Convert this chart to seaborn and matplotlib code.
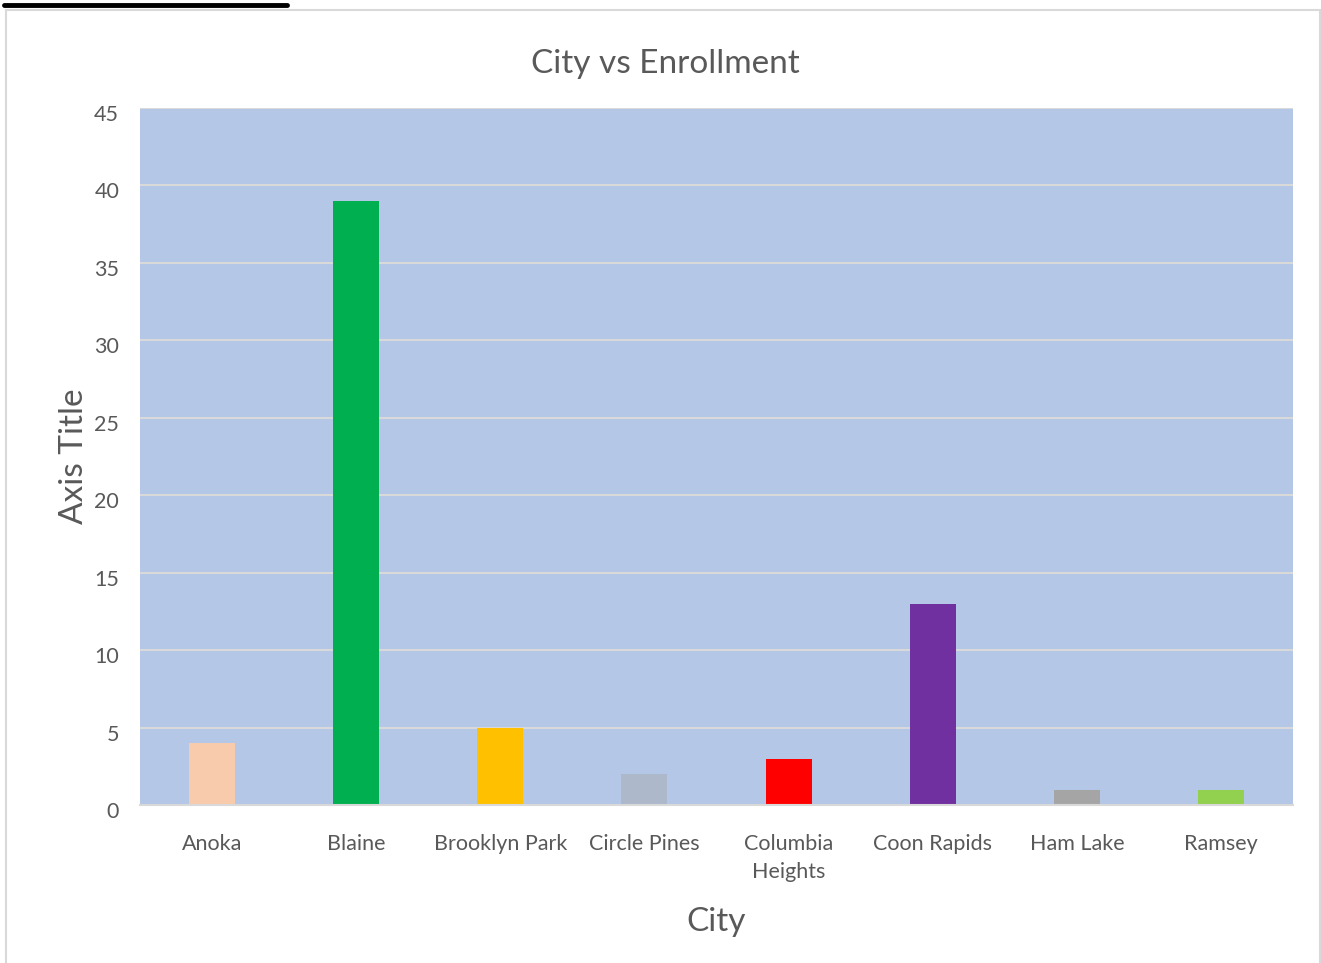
import matplotlib
matplotlib.use("Agg")
import matplotlib.pyplot as plt
from matplotlib.lines import Line2D
from matplotlib.patches import Rectangle
from matplotlib.transforms import ScaledTranslation
import seaborn as sns
import pandas as pd

cities = ["Anoka", "Blaine", "Brooklyn Park", "Circle Pines", "Columbia\nHeights",
          "Coon Rapids", "Ham Lake", "Ramsey"]
enrollment = [4, 39, 5, 2, 3, 13, 1, 1]
colors = ["#F8CBAD", "#00B050", "#FFC000", "#ADB9CA", "#FF0000", "#7030A0", "#A5A5A5", "#92D050"]
yticks = [0, 5, 10, 15, 20, 25, 30, 35, 40, 45]

sns.set_theme(style="white")
plt.rcParams["font.family"] = ["Lato", "DejaVu Sans"]

df = pd.DataFrame({"City": cities, "Enrollment": enrollment})

fig = plt.figure(figsize=(13.21, 9.63), dpi=100)
ax = fig.add_axes([140/1321, 1-805/963, (1293-140)/1321, (805-108)/963])

sns.barplot(data=df, x="City", y="Enrollment", hue="City", palette=colors,
            legend=False, width=0.32, ax=ax, saturation=1, zorder=3,
            linewidth=0, edgecolor="none")

ax.set_facecolor("#B4C7E7")
ax.set_ylim(0, 45)
ax.set_yticks(yticks)
ax.grid(axis="y", color="#D9D9D9", linewidth=1.5, zorder=1)
ax.set_axisbelow(True)
for s in ["left", "right", "top"]:
    ax.spines[s].set_visible(False)
ax.spines["bottom"].set_color("#D9D9D9")
ax.spines["bottom"].set_linewidth(1.5)
ax.spines["bottom"].set_zorder(4)
ax.tick_params(axis="both", length=0, labelsize=15.5, labelcolor="#595959")
ax.tick_params(axis="y", pad=15)
ax.tick_params(axis="x", pad=21)
for lbl in ax.get_xticklabels():
    lbl.set_linespacing(1.5)

ax.set_title("City vs Enrollment", fontsize=24, color="#595959", pad=25,
             x=(665-140)/1153)
ax.set_xlabel("City", fontsize=24, color="#595959", labelpad=18)
ax.set_ylabel("Axis Title", fontsize=24, color="#595959", labelpad=4)

# chart outer border
fig.add_artist(Rectangle((6/1321, -0.01), (1320-6)/1321, 1-10/963 + 0.01,
                         transform=fig.transFigure, fill=False,
                         edgecolor="#D9D9D9", linewidth=1.5))
# cut-off underlined heading remnant at top-left
fig.add_artist(Line2D([4/1321, 287/1321], [1-5/963, 1-5/963],
                      transform=fig.transFigure, color="black", linewidth=3.5))

fig.canvas.draw()
offset = ScaledTranslation(0, -0.05, fig.dpi_scale_trans)
for tick in ax.yaxis.get_major_ticks():
    tick.label1.set_transform(tick.label1.get_transform() + offset)

fig.savefig("out.png", dpi=100)
